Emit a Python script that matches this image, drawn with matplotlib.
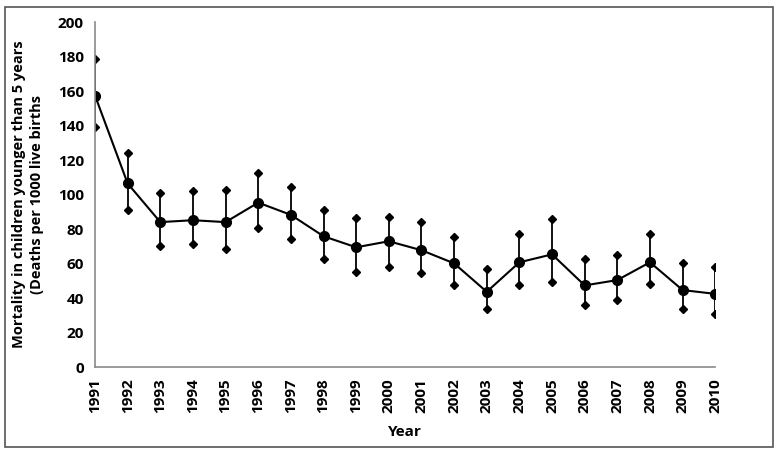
import matplotlib
matplotlib.use("Agg")
import matplotlib.pyplot as plt
from matplotlib.patches import Rectangle

# data
years = list(range(1991, 2011))
mortality = [157.4, 106.4, 84.0, 85.1, 84.0, 95.3, 88.2, 75.8, 69.4, 72.9,
             67.7, 60.1, 43.6, 60.7, 65.3, 47.3, 50.4, 60.7, 44.6, 42.4]
upper = [178.3, 124.2, 100.6, 102.3, 102.9, 112.6, 104.5, 91.1, 86.5, 87.0,
         84.0, 75.4, 57.0, 77.3, 85.9, 62.8, 64.8, 77.2, 60.1, 58.1]
lower = [139.0, 91.3, 70.0, 71.2, 68.4, 80.6, 74.4, 62.8, 55.2, 58.0,
         54.5, 47.7, 33.4, 47.5, 49.4, 35.7, 39.0, 48.1, 33.4, 30.6]
y_ticks = list(range(0, 201, 20))

plt.rcParams['font.family'] = ['Open Sans', 'DejaVu Sans']
plt.rcParams['font.weight'] = 'bold'

fig = plt.figure(figsize=(7.8, 4.55), dpi=100)
ax = fig.add_axes([0.1218, 0.1934, 0.917 - 0.1218, 0.9516 - 0.1934])

err_low = [m - l for m, l in zip(mortality, lower)]
err_up = [u - m for m, u in zip(mortality, upper)]

ax.errorbar(years, mortality, yerr=[err_low, err_up], fmt='-o', color='black',
            ecolor='black', elinewidth=1.3, linewidth=1.5, markersize=7, capsize=0)
ax.plot(years, upper, linestyle='none', marker='D', color='black', markersize=4.5)
ax.plot(years, lower, linestyle='none', marker='D', color='black', markersize=4.5)

ax.set_xlim(1991, 2010)
ax.set_ylim(0, 200)
ax.set_yticks(y_ticks)
ax.set_xticks(years)
ax.set_xticklabels([str(y) for y in years], rotation=90, fontsize=11, fontweight='bold')
ax.set_yticklabels([str(v) for v in y_ticks], fontsize=11, fontweight='bold')
ax.tick_params(length=0, pad=8)

for side in ['top', 'right']:
    ax.spines[side].set_visible(False)
for side in ['left', 'bottom']:
    ax.spines[side].set_color('#8a8a8a')
    ax.spines[side].set_linewidth(1.2)

ax.set_ylabel('Mortality in children younger than 5 years\n(Deaths per 1000 live births',
              fontsize=10.5, fontweight='bold', labelpad=10, linespacing=1.35)
ax.set_xlabel('Year', fontsize=11, fontweight='bold', labelpad=9)

# outer frame around the whole picture
fig.patches.append(Rectangle((0.006, 0.018), 0.985, 0.966, transform=fig.transFigure,
                             fill=False, edgecolor='#555555', linewidth=1.2))

fig.savefig('out.png', dpi=100)
